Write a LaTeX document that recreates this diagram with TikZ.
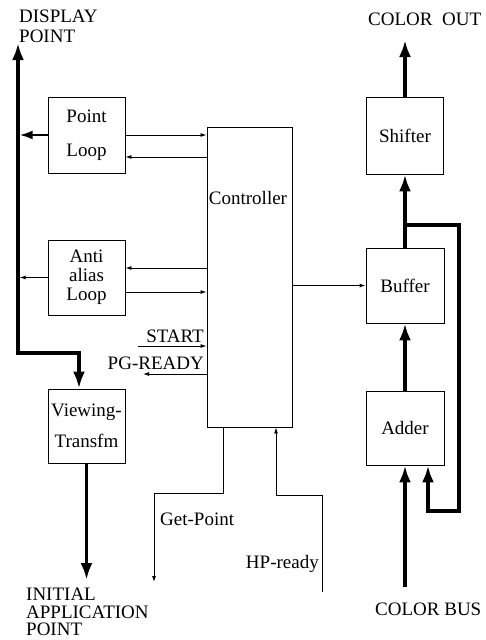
\documentclass[tikz,border=0pt]{standalone}
\usepackage{fontspec}
\setmainfont{Liberation Serif}
\usetikzlibrary{arrows.meta}
\begin{document}
\begin{tikzpicture}[x=1pt,y=-1pt,
  box/.style={draw, line width=0.9pt, inner sep=0pt, align=center, font=\fontsize{19}{19}\selectfont},
  lbl/.style={inner sep=0pt, font=\fontsize{19}{19}\selectfont},
  thinarr/.style={line width=0.9pt, -{Latex[length=6pt,width=4pt]}},
  medarr/.style={line width=2.2pt, -{Latex[length=13pt,width=9pt]}},
  bus/.style={line width=3.6pt, -{Latex[length=17pt,width=12pt]}},
  busboth/.style={line width=3.6pt, {Latex[length=17pt,width=12pt]}-{Latex[length=17pt,width=12pt]}}
]
\useasboundingbox (0,0) rectangle (486,640);

% boxes
\node[box, minimum width=77, minimum height=76] (point) at (86.5,135) {Point\\[15pt]Loop};
\node[box, minimum width=77, minimum height=75] (anti) at (86.5,277.5) {Anti\\alias\\Loop};
\node[box, minimum width=77, minimum height=74] (view) at (86.5,426) {Viewing-\\[12pt]Transfm};
\node[draw, line width=0.9pt, minimum width=85, minimum height=300, inner sep=0pt] (ctrl) at (249.5,277) {};
\node[lbl] (ctrllbl) at (248,198) {Controller};
\node[box, minimum width=77, minimum height=77] (shf) at (405,135.5) {Shifter};
\node[box, minimum width=78, minimum height=75] (buf) at (405,285.5) {Buffer};
\node[box, minimum width=78, minimum height=74] (add) at (405,428) {Adder};

% labels
\node[lbl, anchor=north west, align=left, font=\fontsize{19}{20}\selectfont] (dplbl) at (19,10) {DISPLAY\\POINT};
\node[lbl, anchor=base west] (colbl) at (368,25) {COLOR\ \ OUT};
\node[lbl, anchor=north west, align=left, font=\fontsize{19}{17.5}\selectfont] (iaplbl) at (26,588) {INITIAL\\APPLICATION\\POINT};
\node[lbl, anchor=base west] (cblbl) at (375,615) {COLOR BUS};
\node[lbl, anchor=base west] (gplbl) at (160,525) {Get-Point};
\node[lbl, anchor=base east] (hplbl) at (319,568) {HP-ready};
\node[lbl, anchor=base east] (stlbl) at (204,342) {START};
\node[lbl, anchor=base east] (pglbl) at (204,369) {PG-READY};

% coordinates
\coordinate (dp) at (18,43);
\coordinate (jn) at (18,353);
\coordinate (vin) at ([xshift=-7.5pt]view.north);
\coordinate (iap) at (86.5,580);
\coordinate (st) at (138,346);
\coordinate (pg) at (143,374);
\coordinate (gpa) at ([xshift=-26.5pt]ctrl.south);
\coordinate (gp) at (154,582);
\coordinate (hpa) at ([xshift=26.5pt]ctrl.south);
\coordinate (hp) at (322,592);
\coordinate (co) at (405,40);
\coordinate (cb) at (405,587);
\coordinate (tap) at (405,225);
\coordinate (ain) at ([xshift=23pt]add.south);

% left thick bus
\draw[busboth] (dp) -- (jn) -| (vin);
\draw[bus] (view.south) -- (iap);
\draw[medarr, shorten >=1.6pt] (point.west) -- (point.west -| dp);
\draw[thinarr, shorten >=1.6pt] (anti.west) -- (anti.west -| dp);

% controller links
\draw[thinarr] (point.east) -- (point.east -| ctrl.west);
\draw[thinarr] ([yshift=-22pt]point.east -| ctrl.west) -- ([yshift=-22pt]point.east);
\draw[thinarr] ([yshift=9.5pt]anti.east -| ctrl.west) -- ([yshift=9.5pt]anti.east);
\draw[thinarr] ([yshift=-14.5pt]anti.east) -- ([yshift=-14.5pt]anti.east -| ctrl.west);
\draw[thinarr] (st) -- (st -| ctrl.west);
\draw[thinarr] (pg -| ctrl.west) -- (pg);
\draw[thinarr] (buf.west -| ctrl.east) -- (buf.west);
\draw[thinarr] (gpa) -- ++(0,66) -| (gp);
\draw[thinarr] (hp) -- ++(0,-97) -| (hpa);

% right side
\draw[bus] (cb) -- (add.south);
\draw[bus] (add.north) -- (buf.south);
\draw[bus] (buf.north) -- (shf.south);
\draw[bus] (shf.north) -- (co);
\draw[bus] (tap) -| (459,511) -| (ain);
\end{tikzpicture}
\end{document}
